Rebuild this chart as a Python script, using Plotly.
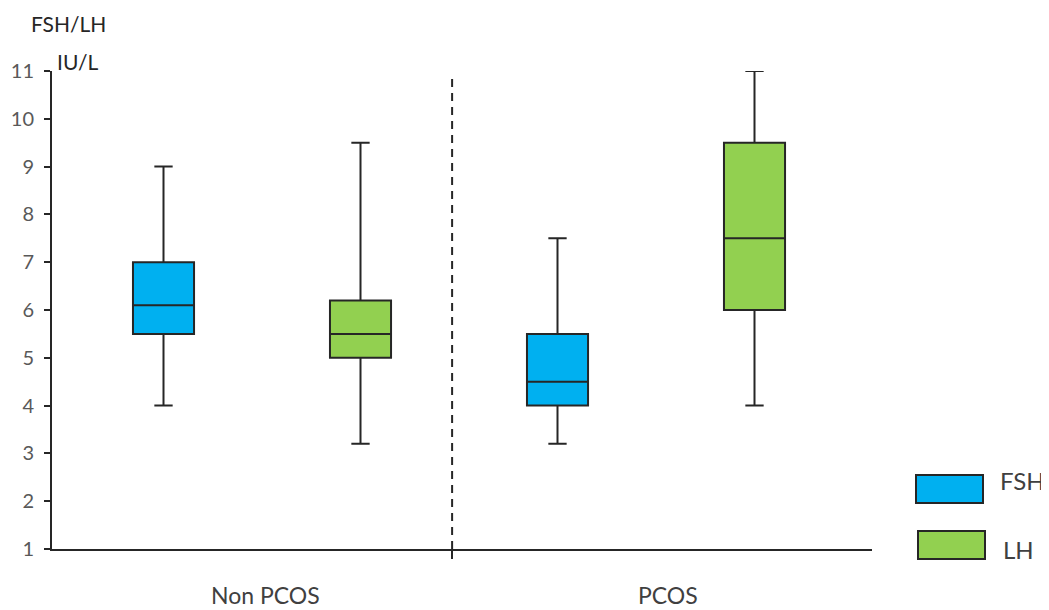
import plotly.graph_objects as go

# ---- data ----
groups = ["Non PCOS", "PCOS"]
series = ["FSH", "LH"]
# per group, per series: [lower whisker, q1, median, q3, upper whisker]
lower = {"FSH": [4.0, 3.2], "LH": [3.2, 4.0]}
q1 = {"FSH": [5.5, 4.0], "LH": [5.0, 6.0]}
median = {"FSH": [6.1, 4.5], "LH": [5.5, 7.5]}
q3 = {"FSH": [7.0, 5.5], "LH": [6.2, 9.5]}
upper = {"FSH": [9.0, 7.5], "LH": [9.5, 11.0]}
y_ticks = list(range(1, 12))

# ---- styling / layout constants ----
colors = {"FSH": "#00B0F0", "LH": "#92D050"}
offsets = {"FSH": -0.5, "LH": 0.5}
GROUP_SPACING = 2.0
BOX_W = 0.31
DIVIDER_X = 0.965
LINE = "#262626"
FONT = "Lato"

PAGE_MARGIN = 8  # default body margin of the html page
W, H = 1049 - PAGE_MARGIN, 610 - PAGE_MARGIN
PLOT_L, PLOT_R, PLOT_T, PLOT_B = 52, 872, 71, 549  # target window pixels
ML = PLOT_L - PAGE_MARGIN
MT = PLOT_T - PAGE_MARGIN
PW = PLOT_R - PLOT_L
PH = PLOT_B - PLOT_T
MR = W - ML - PW
MB = H - MT - PH


def px(x):
    return (x - PLOT_L) / PW


def py(y):
    return (PLOT_B - y) / PH


fig = go.Figure()
for s in series:
    for gi, g in enumerate(groups):
        fig.add_trace(go.Box(
            x=[gi * GROUP_SPACING + offsets[s]],
            q1=[q1[s][gi]], median=[median[s][gi]], q3=[q3[s][gi]],
            lowerfence=[lower[s][gi]], upperfence=[upper[s][gi]],
            width=BOX_W, whiskerwidth=0.3,
            fillcolor=colors[s], line=dict(color=LINE, width=2),
            boxpoints=False, name=s, showlegend=False, hoverinfo="skip",
        ))

shapes = [
    dict(type="line", xref="x", yref="y", x0=DIVIDER_X, x1=DIVIDER_X, y0=1, y1=10.92,
         line=dict(color=LINE, width=2, dash="8px,6px")),
]
annotations = [
    dict(text="FSH/LH", xref="paper", yref="paper", x=px(29), y=py(24), xanchor="left",
         yanchor="middle", showarrow=False, font=dict(family=FONT, size=21, color="#262626")),
    dict(text="IU/L", xref="paper", yref="paper", x=px(55), y=py(62), xanchor="left",
         yanchor="middle", showarrow=False, font=dict(family=FONT, size=21, color="#262626")),
]
for gi, g in enumerate(groups):
    annotations.append(dict(text=g, xref="x", yref="paper", x=gi * GROUP_SPACING, y=py(595),
                            xanchor="center", yanchor="middle", showarrow=False,
                            borderpad=0, xshift=3 if gi == 0 else 12,
                            font=dict(family=FONT, size=23, color="#404040")))

# legend (drawn manually)
legend_pos = {"FSH": (916, 475, 998, 480), "LH": (918, 531, 1001, 549)}
for s in series:
    x0, y0, tx, ty = legend_pos[s]
    shapes.append(dict(type="rect", xref="paper", yref="paper", x0=px(x0), x1=px(x0 + 67),
                       y0=py(y0 + 28), y1=py(y0), fillcolor=colors[s],
                       line=dict(color=LINE, width=2)))
    annotations.append(dict(text=s, xref="paper", yref="paper", x=px(tx), y=py(ty),
                            xanchor="left", yanchor="middle", showarrow=False,
                            font=dict(family=FONT, size=24, color="#404040")))

x_lo = -1.066
x_hi = x_lo + PW / 197.0

fig.update_layout(
    width=W, height=H,
    margin=dict(l=ML, r=MR, t=MT, b=MB, pad=0, autoexpand=False),
    paper_bgcolor="white", plot_bgcolor="white",
    boxmode="overlay",
    shapes=shapes, annotations=annotations,
    xaxis=dict(range=[x_lo, x_hi], showgrid=False, zeroline=False, showline=True,
               automargin=False,
               linecolor=LINE, linewidth=2, tickvals=[DIVIDER_X], ticks="outside",
               ticklen=8, tickwidth=2, tickcolor=LINE, showticklabels=False),
    yaxis=dict(range=[1, 11], tickvals=y_ticks, showgrid=False, zeroline=False,
               automargin=False,
               showline=True, linecolor=LINE, linewidth=2, ticks="outside", ticklen=6,
               tickwidth=2, tickcolor=LINE, ticklabelstandoff=6,
               tickfont=dict(family=FONT, size=20, color="#595959")),
)

fig.write_html("out.html")
